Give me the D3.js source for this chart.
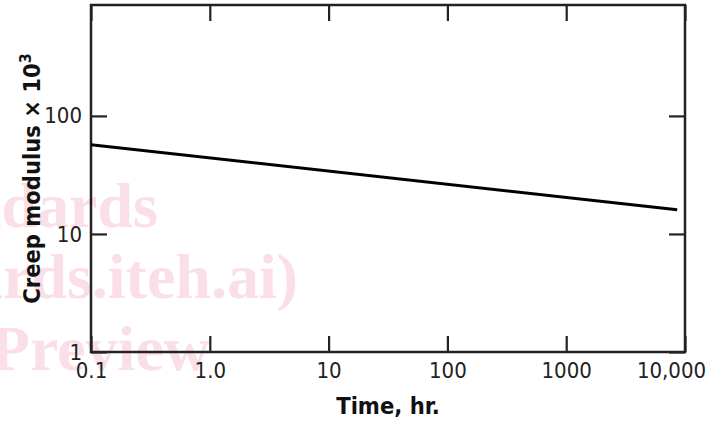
<!DOCTYPE html>
<html>
<head>
<meta charset="utf-8">
<script src="https://cdn.jsdelivr.net/npm/d3@7"></script>
<style>
  body { margin: 0; background: #fff; }
  svg { display: block; }
  .tick text { font-family: "DejaVu Sans Condensed", "DejaVu Sans", sans-serif; font-size: 22px; fill: #222; }
  .title { font-family: "DejaVu Sans Condensed", "DejaVu Sans", sans-serif; font-weight: bold; font-size: 23.5px; fill: #111; }
  .wm { font-family: "Liberation Serif", serif; font-weight: bold; font-size: 64px; fill: #fadfe6; }
</style>
</head>
<body>
<svg id="board" width="722" height="424"></svg>
<script>
// creep modulus (x 10^3) vs time, straight line on log-log
let times = [0.1, 8600]
let modulus = [57, 16]

let xTicks = [0.1, 1, 10, 100, 1000, 10000]
let xLabels = ['0.1', '1.0', '10', '100', '1000', '10,000']
let yTicks = [1, 10, 100]
let yLabels = ['1', '10', '100']

let watermark = ['iTeh Standards', '(https://standards.iteh.ai)', 'Document Preview']

let W = 722, H = 424
let m = { left: 91, top: 5, right: 37, bottom: 72 }
let w = W - m.left - m.right
let h = H - m.top - m.bottom

let svg = d3.select('#board')

// faint watermark in the background
let wmEnds = [[158, 227], [298, 298], [210, 370]]
svg.selectAll('text.wm')
    .data(watermark)
    .enter()
    .append('text')
    .attr('class', 'wm')
    .attr('text-anchor', 'end')
    .attr('x', (d, i) => wmEnds[i][0])
    .attr('y', (d, i) => wmEnds[i][1])
    .text(d => d)

let g = svg.append('g').attr('transform', `translate(${m.left},${m.top})`)

let x = d3.scaleLog().domain([0.1, 10000]).range([0, w])
let y = d3.scaleLog().domain([1, 870]).range([h, 0])

let tk = 16

let xAxis = g.append('g')
    .attr('transform', `translate(0,${h})`)
    .call(d3.axisBottom(x).tickValues(xTicks).tickSize(-tk).tickPadding(10)
        .tickFormat((d, i) => xLabels[i]))
xAxis.selectAll('.tick text')
    .attr('dx', (d, i) => i === xTicks.length - 1 ? -14 : 0)

g.append('g')
    .call(d3.axisTop(x).tickValues(xTicks).tickSize(-tk).tickFormat(''))

g.append('g')
    .call(d3.axisLeft(y).tickValues(yTicks).tickSize(-tk).tickPadding(9)
        .tickFormat((d, i) => yLabels[i]))

g.append('g')
    .attr('transform', `translate(${w},0)`)
    .call(d3.axisRight(y).tickValues(yTicks).tickSize(-tk).tickFormat(''))

g.selectAll('.domain').remove()
g.selectAll('.tick line').attr('stroke', '#222').attr('stroke-width', 2.2)

// frame
g.append('rect')
    .attr('width', w)
    .attr('height', h)
    .attr('fill', 'none')
    .attr('stroke', '#222')
    .attr('stroke-width', 2.5)

// data line
let line = d3.line()
    .x(d => x(d[0]))
    .y(d => y(d[1]))

g.append('path')
    .datum(times.map((t, i) => [t, modulus[i]]))
    .attr('d', line)
    .attr('fill', 'none')
    .attr('stroke', '#000')
    .attr('stroke-width', 3)

// axis titles
svg.append('text')
    .attr('class', 'title')
    .attr('x', 388)
    .attr('y', 414)
    .attr('text-anchor', 'middle')
    .text('Time, hr.')

let yt = svg.append('text')
    .attr('class', 'title')
    .attr('transform', `translate(40,${m.top + h / 2}) rotate(-90)`)
    .attr('text-anchor', 'middle')
yt.append('tspan').text('Creep modulus × 10')
yt.append('tspan').attr('dy', -9).attr('font-size', 16).text('3')
</script>
</body>
</html>
